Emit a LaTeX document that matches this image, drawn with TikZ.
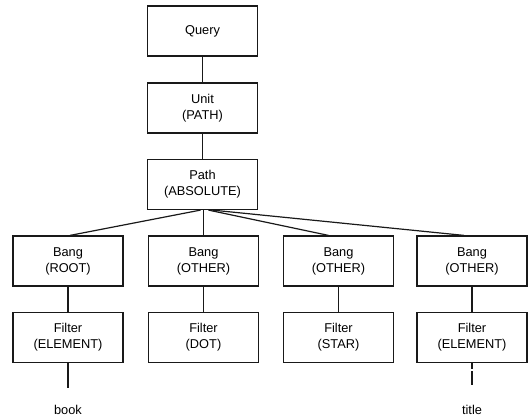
\documentclass[tikz,border=0pt]{standalone}
\usepackage{fontspec}
\setmainfont{Liberation Sans}
\usetikzlibrary{calc}
\begin{document}
\begin{tikzpicture}[x=1pt,y=-1pt,
  box/.style={draw=black!90,line width=1.2pt,rectangle,minimum width=110pt,minimum height=50pt,
    align=center,inner sep=0pt,font=\fontsize{12.8}{16}\selectfont},
  conn/.style={draw=black!90,line width=1.2pt},
  leaf/.style={inner sep=0pt,font=\fontsize{12.8}{16}\selectfont}]
\useasboundingbox (0,0) rectangle (529,419);
\node[box] (query) at (202.5,31) {Query};
\node[box] (unit) at (202.5,108) {Unit\\(PATH)};
\node[box] (path) at (202.5,184.5) {Path\\(ABSOLUTE)};
\node[box] (b1) at (68,261) {Bang\\(ROOT)};
\node[box] (b2) at (203.5,261) {Bang\\(OTHER)};
\node[box] (b3) at (338.5,261) {Bang\\(OTHER)};
\node[box] (b4) at (472,261) {Bang\\(OTHER)};
\node[box] (f1) at (68,337.5) {Filter\\(ELEMENT)};
\node[box] (f2) at (203.5,337.5) {Filter\\(DOT)};
\node[box] (f3) at (338.5,337.5) {Filter\\(STAR)};
\node[box] (f4) at (472,337.5) {Filter\\(ELEMENT)};
\coordinate (e1) at (68,388);
\coordinate (e4) at (472,386);
\node[leaf] (book) at (68,410) {book};
\node[leaf] (title) at (472,410) {title};
\draw[conn] (query) -- (unit);
\draw[conn] (unit) -- (path);
\draw[conn] ($(path.south)+(-2,0)$) -- ($(b1.north)+(2,0)$);
\draw[conn] (path.south -| b2) -- (b2.north);
\draw[conn] ($(path.south)+(6,0)$) -- ($(b3.north)+(-10,0)$);
\draw[conn] ($(path.south)+(10,0)$) -- ($(b4.north)+(-8,0)$);
\draw[conn] (b1) -- (f1);
\draw[conn] (b2) -- (f2);
\draw[conn] (b3) -- (f3);
\draw[conn] (b4) -- (f4);
\draw[conn] (f1) -- (e1);
\draw[conn,dash pattern=on 6pt off 2pt on 14pt off 2pt] (f4) -- (e4);
\end{tikzpicture}
\end{document}
